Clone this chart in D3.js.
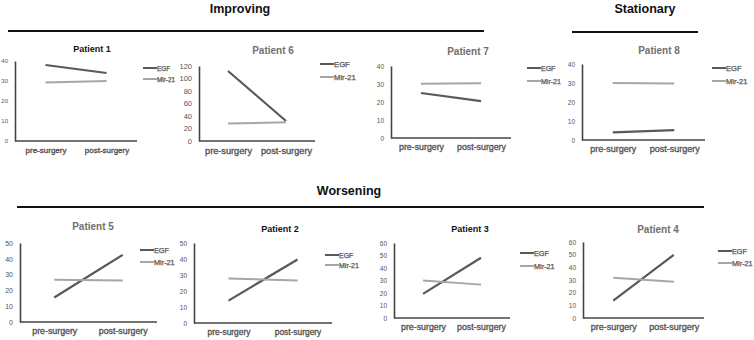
<!DOCTYPE html>
<html>
<head>
<meta charset="utf-8">
<script src="https://cdn.jsdelivr.net/npm/d3@7"></script>
<style>
  body { margin: 0; background: #fff; }
  svg { font-family: "Liberation Sans", Arial, sans-serif; }
</style>
</head>
<body>
<svg id="chart"></svg>
<script>
// Chart size
const width = 754;
const height = 340;

// Data
const categories = ["pre-surgery", "post-surgery"];
const seriesNames = ["EGF", "Mir-21"];
const patients = ["Patient 1", "Patient 6", "Patient 7", "Patient 8", "Patient 5", "Patient 2", "Patient 3", "Patient 4"];
const yMax = [40, 120, 40, 40, 50, 50, 60, 60];
const yStep = [10, 20, 10, 10, 10, 10, 10, 10];
const egfValues = [[38, 34], [112, 32], [25, 20.5], [4, 5.2], [15.5, 42.5], [14, 39.7], [19.3, 48.2], [13.8, 49.8]];
const mirValues = [[29.2, 30], [28, 30], [30.2, 30.4], [30, 29.8], [26.8, 26.3], [27.8, 26.5], [30, 26.7], [31.8, 28.7]];
const groups = ["Improving", "Stationary", "Worsening"];

// Layout of each small panel (axis box, title, legend, font sizes)
const panels = [
  { x0: 15, x1: 137, top: 61, bot: 141, tx: 92, ty: 49, dark: true, lx: 143, ly: 68, lgap: 11, tick: 6, cat: 8, leg: 6.4 },
  { x0: 199, x1: 315, top: 66, bot: 141, tx: 273, ty: 51, dark: false, lx: 320, ly: 64, lgap: 13, tick: 7.5, cat: 9.2, leg: 7.7 },
  { x0: 391, x1: 511, top: 66, bot: 138, tx: 468, ty: 52, dark: false, lx: 527, ly: 68, lgap: 13, tick: 6.5, cat: 8.8, leg: 7 },
  { x0: 582, x1: 705, top: 64, bot: 140, tx: 659, ty: 51, dark: false, lx: 712, ly: 68, lgap: 13, tick: 6.5, cat: 9, leg: 7.6 },
  { x0: 20, x1: 157, top: 243, bot: 322, tx: 93, ty: 227, dark: false, lx: 140, ly: 250, lgap: 12, tick: 7, cat: 8.8, leg: 7.3 },
  { x0: 194, x1: 332, top: 243, bot: 323, tx: 280, ty: 229, dark: true, lx: 325, ly: 255, lgap: 10, tick: 6.5, cat: 8.4, leg: 7 },
  { x0: 394, x1: 510, top: 243, bot: 318, tx: 470, ty: 229, dark: true, lx: 520, ly: 253, lgap: 13, tick: 6.5, cat: 8.8, leg: 7.3 },
  { x0: 583, x1: 704, top: 242, bot: 318, tx: 658, ty: 230, dark: false, lx: 718, ly: 251, lgap: 12, tick: 6.5, cat: 9, leg: 7.3 }
];

const headers = [
  { x: 240, y: 13, lx0: 8, lx1: 484, ly: 31 },
  { x: 645, y: 13, lx0: 572, lx1: 698, ly: 32 },
  { x: 349, y: 195, lx0: 17, lx1: 704, ly: 207 }
];

const seriesColors = ["#595959", "#a6a6a6"];

const svg = d3.select("#chart")
    .attr("width", width)
    .attr("height", height);

// Group headers with rules
headers.forEach((h, i) => {
    svg.append("text")
        .attr("x", h.x)
        .attr("y", h.y)
        .attr("text-anchor", "middle")
        .attr("font-size", 12.5)
        .attr("font-weight", "bold")
        .attr("fill", "#111")
        .text(groups[i]);
    svg.append("line")
        .attr("x1", h.lx0).attr("x2", h.lx1)
        .attr("y1", h.ly).attr("y2", h.ly)
        .attr("stroke", "#111")
        .attr("stroke-width", 2);
});

// Draw each patient panel
panels.forEach((p, i) => {
    const g = svg.append("g");

    const x = d3.scalePoint()
        .domain(categories)
        .range([p.x0, p.x1])
        .padding(0.5);

    const y = d3.scaleLinear()
        .domain([0, yMax[i]])
        .range([p.bot, p.top]);

    // Title
    g.append("text")
        .attr("x", p.tx)
        .attr("y", p.ty + 3)
        .attr("text-anchor", "middle")
        .attr("font-size", p.dark ? 9 : 10)
        .attr("font-weight", "bold")
        .attr("fill", p.dark ? "#111" : "#707070")
        .text(patients[i]);

    // Y axis
    const yAxis = g.append("g")
        .attr("transform", `translate(${p.x0},0)`)
        .call(d3.axisLeft(y).tickValues(d3.range(0, yMax[i] + 1, yStep[i])).tickSize(0).tickPadding(7));
    yAxis.select(".domain").attr("stroke", "#444").attr("stroke-width", 1.6);
    yAxis.selectAll("text").attr("font-size", p.tick).attr("fill", "#555").attr("font-family", "inherit");

    // X axis
    const xAxis = g.append("g")
        .attr("transform", `translate(0,${p.bot})`)
        .call(d3.axisBottom(x).tickSize(0).tickPadding(6));
    xAxis.select(".domain")
        .attr("d", `M${p.x0},0H${p.x1}`)
        .attr("stroke", "#444").attr("stroke-width", 1.6);
    xAxis.selectAll("text")
        .attr("font-size", p.cat)
        .attr("fill", "#555")
        .attr("stroke", "#555")
        .attr("stroke-width", 0.35)
        .attr("font-family", "inherit");

    // Series lines
    const line = d3.line()
        .x((d, j) => x(categories[j]))
        .y(d => y(d));

    [egfValues[i], mirValues[i]].forEach((vals, s) => {
        g.append("path")
            .datum(vals)
            .attr("d", line)
            .attr("fill", "none")
            .attr("stroke", seriesColors[s])
            .attr("stroke-width", s === 0 ? 2.2 : 2);
    });

    // Legend
    seriesNames.forEach((name, s) => {
        const ly = p.ly + s * p.lgap;
        g.append("line")
            .attr("x1", p.lx).attr("x2", p.lx + 14)
            .attr("y1", ly).attr("y2", ly)
            .attr("stroke", seriesColors[s])
            .attr("stroke-width", 2);
        g.append("text")
            .attr("x", p.lx + 14)
            .attr("y", ly + 2.5)
            .attr("font-size", p.leg)
            .attr("fill", "#555")
            .attr("stroke", "#555")
            .attr("stroke-width", 0.25)
            .text(name);
    });
});
</script>
</body>
</html>
